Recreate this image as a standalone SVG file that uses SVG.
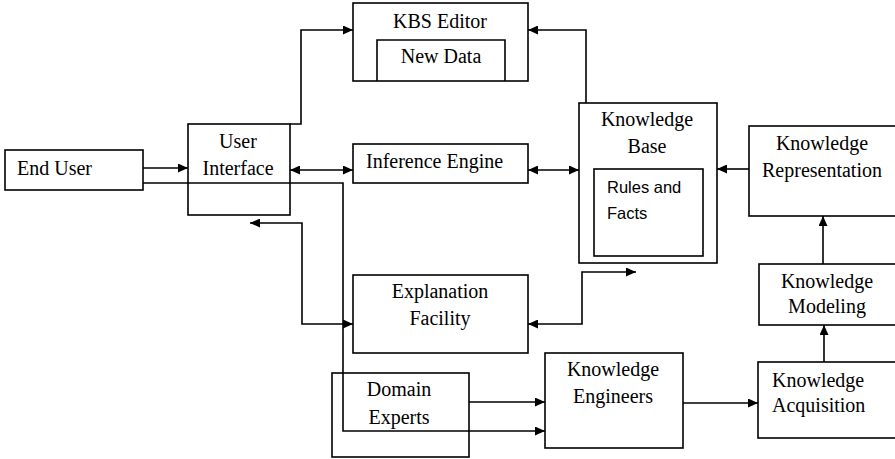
<svg xmlns="http://www.w3.org/2000/svg" width="895" height="459" viewBox="0 0 895 459">
<style>
.box{fill:#fff;stroke:#000;stroke-width:1.6}
.t{font-family:'Liberation Serif','Times New Roman',serif;font-size:20px;fill:#000}
.s{font-family:'Liberation Sans',Arial,sans-serif;font-size:16.5px;fill:#000}
.c{text-anchor:middle}
.ln{fill:none;stroke:#000;stroke-width:1.6}
</style>
<defs>
<marker id="ah" markerUnits="userSpaceOnUse" markerWidth="11" markerHeight="9" refX="10" refY="4.5" orient="auto-start-reverse">
<path d="M0,0 L10,4.5 L0,9 z" fill="#000"/>
</marker>
</defs>
<rect width="895" height="459" fill="#fff"/>
<g id="end-user"><rect class="box" x="5" y="150" width="138" height="40"/><text class="t" x="17" y="175">End User</text></g>
<g id="user-interface"><rect class="box" x="188" y="124" width="102" height="91"/><text class="t c" x="238" y="148">User</text><text class="t c" x="238" y="175">Interface</text></g>
<g id="kbs-editor"><rect class="box" x="353" y="3" width="175" height="78"/><text class="t c" x="440" y="28">KBS Editor</text>
<path class="ln" d="M377,81 V40 H505 V81"/><text class="t c" x="441" y="63">New Data</text></g>
<g id="inference-engine"><rect class="box" x="353" y="144" width="175" height="39"/><text class="t" x="366" y="168">Inference Engine</text></g>
<g id="knowledge-base"><rect class="box" x="579" y="103" width="138" height="160"/><text class="t c" x="647" y="126">Knowledge</text><text class="t c" x="647" y="153">Base</text>
<rect class="box" x="594" y="169" width="109" height="87"/><text class="s" x="607" y="193">Rules and</text><text class="s" x="607" y="219">Facts</text></g>
<g id="explanation-facility"><rect class="box" x="353" y="275" width="175" height="78"/><text class="t c" x="440" y="298">Explanation</text><text class="t c" x="440" y="325">Facility</text></g>
<g id="domain-experts"><rect class="box" x="332" y="373" width="137" height="84"/><text class="t c" x="399" y="396">Domain</text><text class="t c" x="399" y="424">Experts</text></g>
<g id="knowledge-engineers"><rect class="box" x="545" y="353" width="138" height="95"/><text class="t c" x="613" y="376">Knowledge</text><text class="t c" x="613" y="403">Engineers</text></g>
<g id="knowledge-representation"><rect class="box" x="749" y="126" width="152" height="90"/><text class="t c" x="822" y="150">Knowledge</text><text class="t c" x="822" y="177">Representation</text></g>
<g id="knowledge-modeling"><rect class="box" x="759" y="264" width="142" height="61"/><text class="t c" x="827" y="288">Knowledge</text><text class="t c" x="827" y="313">Modeling</text></g>
<g id="knowledge-acquisition"><rect class="box" x="758" y="362" width="143" height="76"/><text class="t" x="772" y="387">Knowledge</text><text class="t" x="772" y="412">Acquisition</text></g>
<g id="connectors">
<path class="ln" d="M143,168 H188" marker-end="url(#ah)"/>
<path class="ln" d="M143,183 H343 V431 H545" marker-end="url(#ah)"/>
<path class="ln" d="M290,124 H301 V30 H353" marker-end="url(#ah)"/>
<path class="ln" d="M290,170 H353" marker-start="url(#ah)" marker-end="url(#ah)"/>
<path class="ln" d="M586,103 V30 H528" marker-end="url(#ah)"/>
<path class="ln" d="M528,170 H579" marker-start="url(#ah)" marker-end="url(#ah)"/>
<path class="ln" d="M250,223 H302 V324 H353" marker-start="url(#ah)" marker-end="url(#ah)"/>
<path class="ln" d="M528,324 H582 V272 H636" marker-start="url(#ah)" marker-end="url(#ah)"/>
<path class="ln" d="M469,402 H545" marker-end="url(#ah)"/>
<path class="ln" d="M683,403 H758" marker-end="url(#ah)"/>
<path class="ln" d="M824,362 V325" marker-end="url(#ah)"/>
<path class="ln" d="M823,264 V216" marker-end="url(#ah)"/>
<path class="ln" d="M749,169 H717" marker-end="url(#ah)"/>
</g>
</svg>
